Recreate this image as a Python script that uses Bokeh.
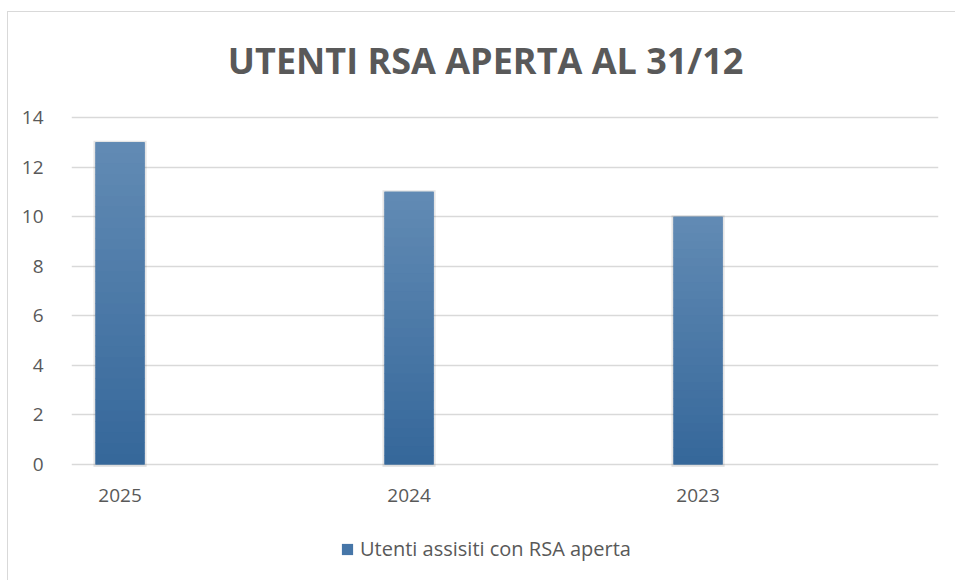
from bokeh.plotting import figure
from bokeh.models import (ColumnDataSource, FixedTicker, Range1d, Legend, LegendItem, Label)
from bokeh.embed import file_html
from bokeh.resources import INLINE

# ---- data ----
categories = ["2025", "2024", "2023"]
values = [13, 11, 10]
series_name = "Utenti assisiti con RSA aperta"
title_text = "UTENTI RSA APERTA AL 31/12"
y_ticks = [0, 2, 4, 6, 8, 10, 12, 14]

# ---- style ----
TEXT = "#595959"
GRID = "#d9d9d9"
TOP_RGB = (98, 139, 180)
BOT_RGB = (53, 103, 154)
BASE = "#4676a8"
FONT = "Open Sans"

xs = list(range(len(categories)))
bar_w = 0.17

# frame spans the whole canvas height; value axis 0..14 occupies its middle
p = figure(frame_width=867, frame_height=568, output_backend="svg", toolbar_location=None,
           x_range=Range1d(-0.168, 2.832), y_range=Range1d(-4.68, 18.236),
           min_border_left=63, min_border_right=17, min_border_top=0,
           min_border_bottom=0)
p.outline_line_color = None
p.background_fill_color = "white"
p.border_fill_color = "white"
p.styles = {"margin-left": "7px", "margin-top": "11px",
            "border-left": "1px solid #d9d9d9", "border-top": "1px solid #d9d9d9"}

# title
p.add_layout(Label(x=1.265, y=16.3, text=title_text, text_align="center",
                   text_baseline="alphabetic", text_font=FONT, text_font_style="bold",
                   text_font_size="36px", text_color=TEXT))

# grid / axes
p.xgrid.grid_line_color = None
p.ygrid.grid_line_color = GRID
p.ygrid.grid_line_width = 1.5
p.ygrid.ticker = FixedTicker(ticks=y_ticks)

p.yaxis.ticker = FixedTicker(ticks=y_ticks)
p.yaxis.axis_line_color = None
p.yaxis.major_tick_line_color = None
p.yaxis.minor_tick_line_color = None
p.yaxis.major_label_standoff = 22
p.yaxis.major_label_text_font = FONT
p.yaxis.major_label_text_font_size = "19px"
p.yaxis.major_label_text_color = TEXT

p.xaxis.fixed_location = 0
p.xaxis.ticker = FixedTicker(ticks=xs)
p.xaxis.major_label_overrides = {i: c for i, c in zip(xs, categories)}
p.xaxis.axis_line_color = None
p.xaxis.major_tick_line_color = None
p.xaxis.minor_tick_line_color = None
p.xaxis.major_label_standoff = 18
p.xaxis.major_label_text_font = FONT
p.xaxis.major_label_text_font_size = "19px"
p.xaxis.major_label_text_color = TEXT

# shadow
p.vbar(x=xs, top=[v + 0.06 for v in values], bottom=-0.1, width=bar_w + 0.014,
       fill_color="black", fill_alpha=0.10, line_color=None)

# base bars (used for legend)
base = p.vbar(x=xs, top=values, width=bar_w, fill_color=BASE, line_color=None)

# gradient overlay, derived from each bar's value
N = 30
gx, gb, gt, gc = [], [], [], []
for x, v in zip(xs, values):
    for k in range(N):
        f = (k + 0.5) / N
        r = round(BOT_RGB[0] + (TOP_RGB[0] - BOT_RGB[0]) * f)
        g = round(BOT_RGB[1] + (TOP_RGB[1] - BOT_RGB[1]) * f)
        b = round(BOT_RGB[2] + (TOP_RGB[2] - BOT_RGB[2]) * f)
        gx.append(x)
        gb.append(v * k / N)
        gt.append(v * (k + 1) / N + (0.02 if k < N - 1 else 0))
        gc.append("#%02x%02x%02x" % (r, g, b))
src = ColumnDataSource(dict(x=gx, bottom=gb, top=gt, color=gc))
p.vbar(x="x", bottom="bottom", top="top", width=bar_w, fill_color="color",
       line_color=None, source=src)

legend = Legend(items=[LegendItem(label=series_name, renderers=[base])],
                orientation="horizontal", location=(269, 18),
                label_text_font=FONT, label_text_font_size="20px",
                label_text_color=TEXT, glyph_width=14, glyph_height=14,
                label_standoff=6, border_line_color=None,
                background_fill_alpha=0, margin=0, padding=6)
p.add_layout(legend, "center")

open("out.html", "w").write(file_html(p, INLINE))
